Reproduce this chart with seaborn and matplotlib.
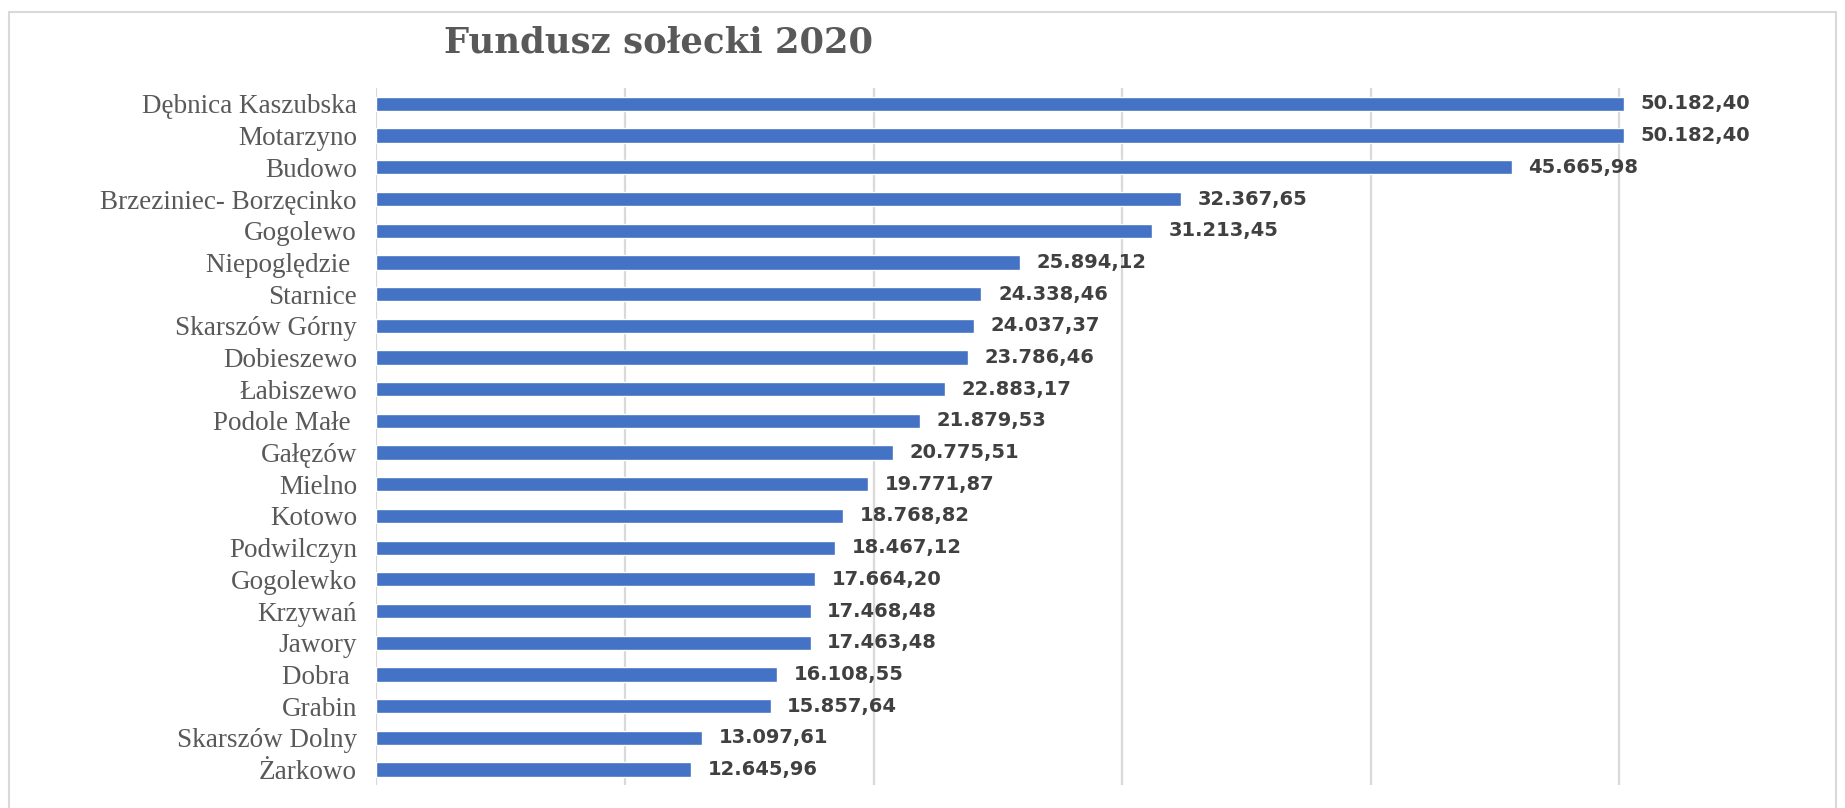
"""Fundusz sołecki 2020 - horizontal bar chart."""

import matplotlib
matplotlib.use("Agg")
import matplotlib.pyplot as plt
import pandas as pd
import seaborn as sns
from matplotlib.patches import Rectangle

BAR = "#4472C4"
TEXT = "#595959"
VALUE = "#404040"
GRID = "#d9d9d9"

sołectwa = [
    "Dębnica Kaszubska", "Motarzyno", "Budowo", "Brzeziniec- Borzęcinko",
    "Gogolewo", "Niepoględzie ", "Starnice", "Skarszów Górny", "Dobieszewo",
    "Łabiszewo", "Podole Małe ", "Gałęzów", "Mielno", "Kotowo", "Podwilczyn",
    "Gogolewko", "Krzywań", "Jawory", "Dobra ", "Grabin", "Skarszów Dolny",
    "Żarkowo",
]
kwoty = [
    50182.40, 50182.40, 45665.98, 32367.65, 31213.45, 25894.12, 24338.46,
    24037.37, 23786.46, 22883.17, 21879.53, 20775.51, 19771.87, 18768.82,
    18467.12, 17664.20, 17468.48, 17463.48, 16108.55, 15857.64, 13097.61,
    12645.96,
]
grid_ticks = [0, 10000, 20000, 30000, 40000, 50000]


def pl_format(v: float) -> str:
    # 50182.4 -> 50.182,40
    s = f"{v:,.2f}"
    return s.replace(",", " ").replace(".", ",").replace(" ", ".")


sns.set_theme(style="white")
plt.rcParams["font.family"] = ["Liberation Serif", "DejaVu Serif"]

df = pd.DataFrame({"name": sołectwa, "value": kwoty})

fig = plt.figure(figsize=(18.45, 8.08), dpi=100)
ax = fig.add_axes([0.204, 0.028, 0.768, 0.863])

sns.barplot(data=df, y="name", x="value", color=BAR, saturation=1,
            width=0.45, orient="h", ax=ax)

ax.set_xlim(0, 57000)
ax.set_xticks(grid_ticks)
ax.set_xticklabels([])
ax.tick_params(axis="x", length=0)
ax.tick_params(axis="y", length=0, pad=14, labelsize=19.5, labelcolor=TEXT)
ax.xaxis.grid(True, color=GRID, linewidth=1.6)
ax.set_axisbelow(True)
ax.set_xlabel("")
ax.set_ylabel("")
for side in ["top", "right", "bottom", "left"]:
    ax.spines[side].set_visible(False)

for container in ax.containers:
    ax.bar_label(container, labels=[pl_format(v) for v in kwoty], padding=12,
                 fontsize=14, fontweight="bold", color=VALUE,
                 family=["DejaVu Sans"])

fig.text(0.357, 0.947, "Fundusz sołecki 2020", ha="center", va="center",
         fontsize=25.5, fontweight="bold", color=TEXT, family=["DejaVu Serif"])

fig.patches.append(Rectangle((0.005, -0.05), 0.99, 1.035, transform=fig.transFigure,
                             fill=False, edgecolor="#d9d9d9", linewidth=1.5))

fig.savefig("out.png", dpi=100, facecolor="white")
